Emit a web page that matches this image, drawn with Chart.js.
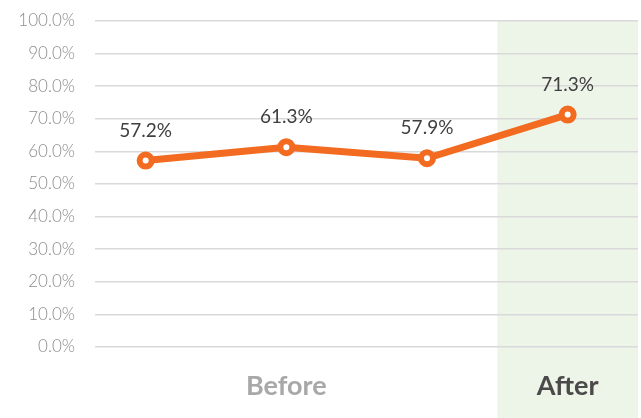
<!DOCTYPE html>
<html>
<head>
<meta charset="utf-8">
<script src="https://cdn.jsdelivr.net/npm/chart.js@4/dist/chart.umd.min.js"></script>
<style>
  html, body { margin: 0; background: #fff; overflow: hidden; }
  #wrap { width: 641px; height: 418px; position: relative; }
  canvas { display: block; }
</style>
</head>
<body>
<div id="wrap"><canvas id="chart"></canvas></div>
<script>
const values = [57.2, 61.3, 57.9, 71.3];
const groupLabels = ["Before", "After"];
const groupOf = [0, 0, 0, 1];
const yTicks = [0, 10, 20, 30, 40, 50, 60, 70, 80, 90, 100];

const orange = "#f26b21";
const groupColors = ["#a8a8a8", "#4a4a4a"];

// green shading behind the "After" group
const bandPlugin = {
  id: "band",
  beforeDraw(chart) {
    const { ctx, chartArea, scales } = chart;
    const first = groupOf.indexOf(1);
    const x0 = scales.x.getPixelForValue(first - 0.5);
    ctx.save();
    ctx.fillStyle = "#edf4e8";
    ctx.fillRect(x0, chartArea.top, chartArea.right - x0, chart.height - chartArea.top);
    ctx.restore();
  },
};

// value labels above each point
const valueLabels = {
  id: "valueLabels",
  afterDatasetsDraw(chart) {
    const { ctx } = chart;
    const meta = chart.getDatasetMeta(0);
    ctx.save();
    ctx.font = "19px Lato";
    ctx.fillStyle = "#404040";
    ctx.textAlign = "center";
    ctx.textBaseline = "middle";
    meta.data.forEach((pt, i) => {
      ctx.fillText(values[i].toFixed(1) + "%", pt.x, pt.y - 30);
    });
    ctx.restore();
  },
};

// group names under the axis
const groupAxis = {
  id: "groupAxis",
  afterDraw(chart) {
    const { ctx, chartArea, scales } = chart;
    ctx.save();
    ctx.font = "bold 27px Lato";
    ctx.textAlign = "center";
    ctx.textBaseline = "middle";
    groupLabels.forEach((name, g) => {
      const idx = groupOf.map((v, i) => (v === g ? i : -1)).filter((i) => i >= 0);
      const mid = (idx[0] + idx[idx.length - 1]) / 2;
      ctx.fillStyle = groupColors[g];
      ctx.fillText(name, scales.x.getPixelForValue(mid), chartArea.bottom + 39);
    });
    ctx.restore();
  },
};

const noPad = (s) => {
  s.paddingTop = 0;
  s.paddingBottom = 0;
  s.paddingLeft = 0;
  s.paddingRight = 0;
};

new Chart(document.getElementById("chart"), {
  type: "line",
  data: {
    datasets: [
      {
        data: values.map((v, i) => ({ x: i, y: v })),
        borderColor: orange,
        borderWidth: 7,
        pointRadius: 6,
        pointBorderWidth: 6,
        pointBackgroundColor: "#fff",
        pointBorderColor: orange,
        tension: 0,
      },
    ],
  },
  options: {
    responsive: true,
    maintainAspectRatio: false,
    animation: false,
    layout: { autoPadding: false, padding: { top: 21, bottom: 71, right: 3, left: 0 } },
    plugins: { legend: { display: false }, tooltip: { enabled: false } },
    scales: {
      x: { type: "linear", min: -0.36, max: 3.5, display: false, afterFit: noPad },
      y: {
        min: 0,
        max: 100,
        afterFit: (s) => { s.width = 95; noPad(s); },
        afterBuildTicks: (s) => { s.ticks = yTicks.map((v) => ({ value: v })); },
        border: { display: false },
        grid: { color: "#d9d9d9", lineWidth: 1.5, drawTicks: false },
        ticks: {
          padding: 20,
          color: "#8c8c8c",
          font: { family: "Lato", size: 17, weight: "300" },
          callback: (v) => v.toFixed(1) + "%",
        },
      },
    },
  },
  plugins: [bandPlugin, valueLabels, groupAxis],
});
</script>
</body>
</html>
